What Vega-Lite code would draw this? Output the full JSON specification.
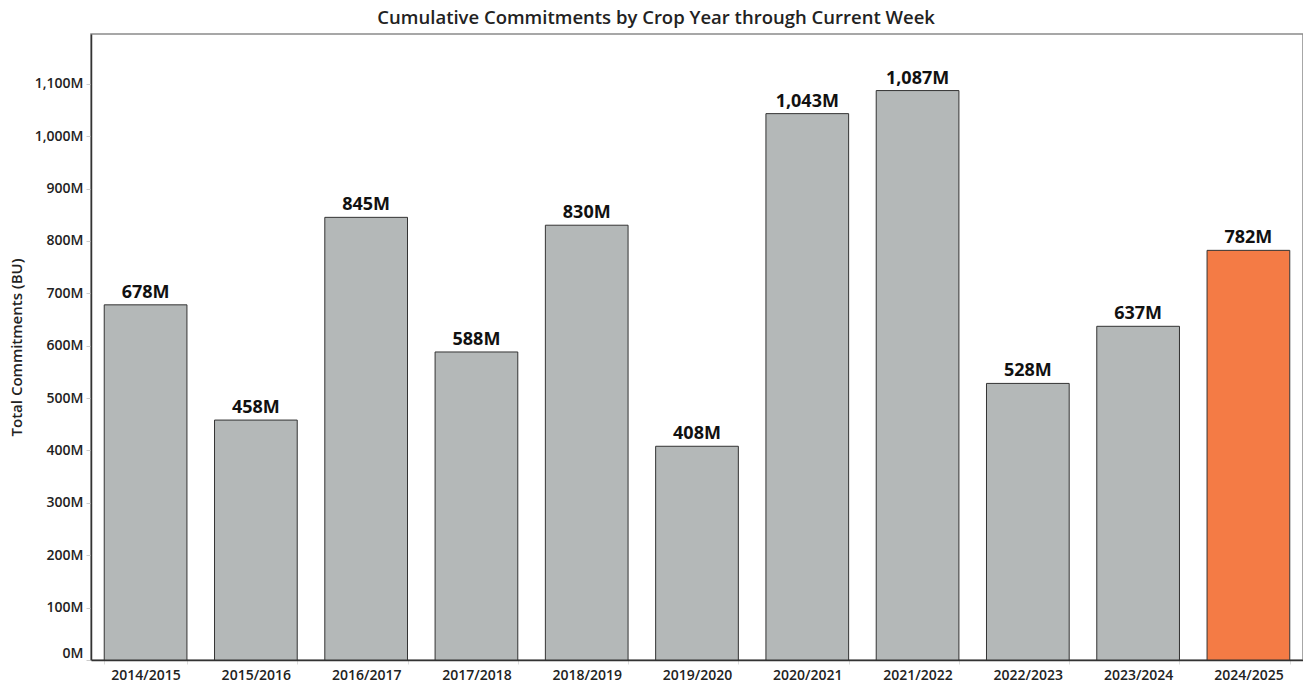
{
  "$schema": "https://vega.github.io/schema/vega-lite/v6.json",
  "autosize": {"type": "none"},
  "width": 1212,
  "height": 626,
  "padding": {"left": 91, "top": 34, "right": 0, "bottom": 24},
  "background": "white",
  "config": {
    "font": "Open Sans",
    "view": {"stroke": "#8a8a8a", "strokeWidth": 1.5}
  },
  "title": {
    "text": "Cumulative Commitments by Crop Year through Current Week",
    "fontSize": 18.5,
    "fontWeight": 600,
    "color": "#222222",
    "font": "Open Sans",
    "anchor": "middle",
    "frame": "bounds",
    "offset": 7
  },
  "data": {
    "values": [
      {"crop_year": "2014/2015", "commitments_m": 678, "current": false},
      {"crop_year": "2015/2016", "commitments_m": 458, "current": false},
      {"crop_year": "2016/2017", "commitments_m": 845, "current": false},
      {"crop_year": "2017/2018", "commitments_m": 588, "current": false},
      {"crop_year": "2018/2019", "commitments_m": 830, "current": false},
      {"crop_year": "2019/2020", "commitments_m": 408, "current": false},
      {"crop_year": "2020/2021", "commitments_m": 1043, "current": false},
      {"crop_year": "2021/2022", "commitments_m": 1087, "current": false},
      {"crop_year": "2022/2023", "commitments_m": 528, "current": false},
      {"crop_year": "2023/2024", "commitments_m": 637, "current": false},
      {"crop_year": "2024/2025", "commitments_m": 782, "current": true}
    ]
  },
  "encoding": {
    "x": {
      "field": "crop_year",
      "type": "nominal",
      "sort": null,
      "scale": {"paddingInner": 0.25, "paddingOuter": 0.12},
      "axis": {
        "title": null,
        "labelAngle": 0,
        "labelFontSize": 14,
        "labelFontWeight": 600,
        "labelColor": "#222222",
        "labelPadding": 4,
        "tickBand": "extent",
        "tickColor": "#dddddd",
        "tickSize": 4,
        "domainColor": "#333333",
        "domainWidth": 1.5
      }
    },
    "y": {
      "field": "commitments_m",
      "type": "quantitative",
      "scale": {"domain": [0, 1195], "nice": false},
      "axis": {
        "title": "Total Commitments (BU)",
        "titleFontSize": 15,
        "titleFontWeight": 600,
        "titleColor": "#222222",
        "titlePadding": 10,
        "values": [0, 100, 200, 300, 400, 500, 600, 700, 800, 900, 1000, 1100],
        "labelExpr": "format(datum.value, ',') + 'M'",
        "labelFontSize": 14,
        "labelFontWeight": 600,
        "labelColor": "#222222",
        "labelFlush": true,
        "labelPadding": 3,
        "tickColor": "#cccccc",
        "tickSize": 5,
        "grid": false,
        "domainColor": "#333333",
        "domainWidth": 1.5
      }
    }
  },
  "layer": [
    {
      "mark": {"type": "bar", "stroke": "#333333", "strokeWidth": 1},
      "encoding": {
        "color": {
          "field": "current",
          "type": "nominal",
          "scale": {"domain": [false, true], "range": ["#b4b8b8", "#f47b45"]},
          "legend": null
        }
      }
    },
    {
      "mark": {
        "type": "text",
        "baseline": "alphabetic",
        "dy": -7,
        "fontSize": 18,
        "fontWeight": "bold",
        "color": "#111111",
        "text": {"expr": "format(datum.commitments_m, ',') + 'M'"}
      }
    }
  ]
}
